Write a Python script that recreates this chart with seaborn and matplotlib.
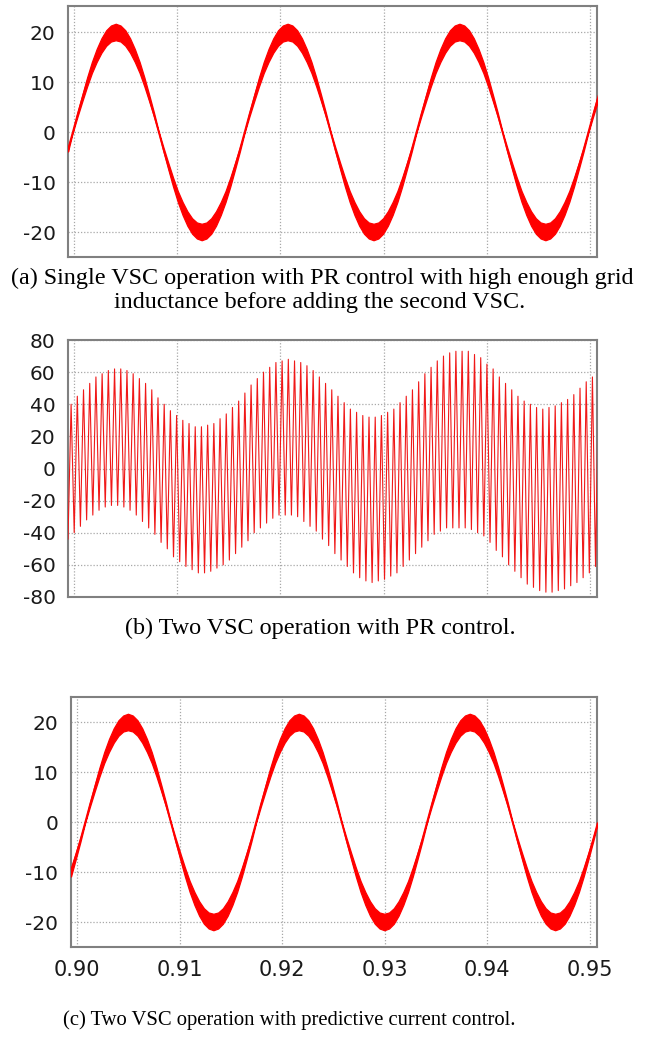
import numpy as np
import matplotlib
matplotlib.use("Agg")
import matplotlib.pyplot as plt
import seaborn as sns

# ---------------- data ----------------
T0 = 0.8994            # first sample time (s)
DT_BAND = 0.00046296   # sampling step of the band traces (s)
DT_MID = 0.00030093    # time between successive peak/trough of the oscillation (s)

# (a) single VSC, PR control: centre of the current band and its half-width (A)
top_center = [-3.5,
    0.0, 3.5, 6.8, 10.0, 12.9, 15.3, 17.3, 18.8, 19.7, 20.0, 19.7, 18.8, 17.3, 15.3, 12.9, 10.0, 6.8, 3.5,
    0.0, -3.5, -6.8, -10.0, -12.9, -15.3, -17.3, -18.8, -19.7, -20.0, -19.7, -18.8, -17.3, -15.3, -12.9, -10.0, -6.8, -3.5,
    0.0, 3.5, 6.8, 10.0, 12.9, 15.3, 17.3, 18.8, 19.7, 20.0, 19.7, 18.8, 17.3, 15.3, 12.9, 10.0, 6.8, 3.5,
    0.0, -3.5, -6.8, -10.0, -12.9, -15.3, -17.3, -18.8, -19.7, -20.0, -19.7, -18.8, -17.3, -15.3, -12.9, -10.0, -6.8, -3.5,
    0.0, 3.5, 6.8, 10.0, 12.9, 15.3, 17.3, 18.8, 19.7, 20.0, 19.7, 18.8, 17.3, 15.3, 12.9, 10.0, 6.8, 3.5,
    0.0, -3.5, -6.8, -10.0, -12.9, -15.3, -17.3, -18.8, -19.7, -20.0, -19.7, -18.8, -17.3, -15.3, -12.9, -10.0, -6.8, -3.5,
    0.0, 3.5, 6.8]
top_ripple = [0.4,
    0.1, 0.4, 0.65, 0.9, 1.1, 1.3, 1.45, 1.55, 1.6, 1.65, 1.6, 1.55, 1.45, 1.3, 1.1, 0.9, 0.65, 0.4,
    0.1, 0.4, 0.65, 0.9, 1.1, 1.3, 1.45, 1.55, 1.6, 1.65, 1.6, 1.55, 1.45, 1.3, 1.1, 0.9, 0.65, 0.4,
    0.1, 0.4, 0.65, 0.9, 1.1, 1.3, 1.45, 1.55, 1.6, 1.65, 1.6, 1.55, 1.45, 1.3, 1.1, 0.9, 0.65, 0.4,
    0.1, 0.4, 0.65, 0.9, 1.1, 1.3, 1.45, 1.55, 1.6, 1.65, 1.6, 1.55, 1.45, 1.3, 1.1, 0.9, 0.65, 0.4,
    0.1, 0.4, 0.65, 0.9, 1.1, 1.3, 1.45, 1.55, 1.6, 1.65, 1.6, 1.55, 1.45, 1.3, 1.1, 0.9, 0.65, 0.4,
    0.1, 0.4, 0.65, 0.9, 1.1, 1.3, 1.45, 1.55, 1.6, 1.65, 1.6, 1.55, 1.45, 1.3, 1.1, 0.9, 0.65, 0.4,
    0.1, 0.4, 0.65]

# (b) two VSCs, PR control: successive troughs / peaks of the oscillation (A)
mid_values = [-44, 40, -40, 45, -36, 49, -32, 53, -29, 57, -26, 59, -24, 61, -23, 62, -23, 62, -24, 61,
    -26, 59, -29, 56, -33, 53, -37, 49, -41, 44, -46, 40, -50, 36, -55, 33, -58, 30, -61, 28,
    -63, 26, -65, 26, -65, 27, -64, 28, -62, 31, -60, 34, -57, 38, -53, 42, -49, 47, -45, 52,
    -40, 56, -37, 60, -34, 63, -31, 66, -29, 67, -29, 68, -29, 67, -30, 66, -33, 64, -36, 61,
    -39, 57, -44, 53, -48, 49, -53, 45, -57, 41, -61, 37, -65, 35, -68, 33, -70, 32, -71, 32,
    -70, 33, -69, 35, -67, 37, -65, 41, -61, 45, -57, 49, -53, 54, -49, 59, -45, 63, -41, 67,
    -39, 70, -37, 72, -37, 73, -37, 73, -37, 73, -38, 71, -40, 69, -42, 65, -46, 62, -51, 57,
    -55, 53, -60, 49, -64, 45, -68, 42, -72, 40, -74, 38, -76, 37, -77, 38, -77, 39, -76, 41,
    -75, 43, -73, 46, -71, 50, -68, 54, -65, 57, -61, 62]

# (c) two VSCs, predictive control: centre of the current band and its half-width (A)
bot_center = [-10.0, -6.8, -3.5,
    0.0, 3.5, 6.8, 10.0, 12.9, 15.3, 17.3, 18.8, 19.7, 20.0, 19.7, 18.8, 17.3, 15.3, 12.9, 10.0, 6.8, 3.5,
    0.0, -3.5, -6.8, -10.0, -12.9, -15.3, -17.3, -18.8, -19.7, -20.0, -19.7, -18.8, -17.3, -15.3, -12.9, -10.0, -6.8, -3.5,
    0.0, 3.5, 6.8, 10.0, 12.9, 15.3, 17.3, 18.8, 19.7, 20.0, 19.7, 18.8, 17.3, 15.3, 12.9, 10.0, 6.8, 3.5,
    0.0, -3.5, -6.8, -10.0, -12.9, -15.3, -17.3, -18.8, -19.7, -20.0, -19.7, -18.8, -17.3, -15.3, -12.9, -10.0, -6.8, -3.5,
    0.0, 3.5, 6.8, 10.0, 12.9, 15.3, 17.3, 18.8, 19.7, 20.0, 19.7, 18.8, 17.3, 15.3, 12.9, 10.0, 6.8, 3.5,
    0.0, -3.5, -6.8, -10.0, -12.9, -15.3, -17.3, -18.8, -19.7, -20.0, -19.7, -18.8, -17.3, -15.3, -12.9, -10.0, -6.8, -3.5,
    0.0]
bot_ripple = [0.9, 0.65, 0.4,
    0.1, 0.4, 0.65, 0.9, 1.1, 1.3, 1.45, 1.55, 1.6, 1.65, 1.6, 1.55, 1.45, 1.3, 1.1, 0.9, 0.65, 0.4,
    0.1, 0.4, 0.65, 0.9, 1.1, 1.3, 1.45, 1.55, 1.6, 1.65, 1.6, 1.55, 1.45, 1.3, 1.1, 0.9, 0.65, 0.4,
    0.1, 0.4, 0.65, 0.9, 1.1, 1.3, 1.45, 1.55, 1.6, 1.65, 1.6, 1.55, 1.45, 1.3, 1.1, 0.9, 0.65, 0.4,
    0.1, 0.4, 0.65, 0.9, 1.1, 1.3, 1.45, 1.55, 1.6, 1.65, 1.6, 1.55, 1.45, 1.3, 1.1, 0.9, 0.65, 0.4,
    0.1, 0.4, 0.65, 0.9, 1.1, 1.3, 1.45, 1.55, 1.6, 1.65, 1.6, 1.55, 1.45, 1.3, 1.1, 0.9, 0.65, 0.4,
    0.1, 0.4, 0.65, 0.9, 1.1, 1.3, 1.45, 1.55, 1.6, 1.65, 1.6, 1.55, 1.45, 1.3, 1.1, 0.9, 0.65, 0.4,
    0.1]

x_ticks = [0.90, 0.91, 0.92, 0.93, 0.94, 0.95]
x_ticklabels = ["0.90", "0.91", "0.92", "0.93", "0.94", "0.95"]
y_ticks_small = [-20, -10, 0, 10, 20]
y_ticks_mid = [-80, -60, -40, -20, 0, 20, 40, 60, 80]
captions = ["(a) Single VSC operation with PR control with high enough grid",
            "inductance before adding the second VSC.",
            "(b) Two VSC operation with PR control.",
            "(c) Two VSC operation with predictive current control."]

# ---------------- figure ----------------
sns.set_style("white")
plt.rcParams['font.family'] = ['DejaVu Sans']

W, H = 656, 1038
fig = plt.figure(figsize=(W/100, H/100), dpi=100)

def px_axes(l, t, r, b):
    return fig.add_axes([l/W, 1-b/H, (r-l)/W, (b-t)/H])

ax1 = px_axes(68, 6, 597, 257)
ax2 = px_axes(68, 340, 597, 597)
ax3 = px_axes(71, 697, 597, 947)

RED = "#ff0000"
GRID = "#a8a8a8"
SPINE = "#808080"

def style(ax, yticks, ylim, show_x):
    ax.set_xlim(0.8994, 0.9507)
    ax.set_ylim(*ylim)
    ax.set_xticks(x_ticks)
    ax.set_yticks(yticks)
    ax.set_yticklabels([str(v) for v in yticks])
    if show_x:
        ax.set_xticklabels(x_ticklabels)
        ax.tick_params(axis='x', length=6, width=1, color=SPINE, pad=3, labelsize=15)
    else:
        ax.set_xticklabels([])
        ax.tick_params(axis='x', length=0)
    ax.tick_params(axis='y', length=8, width=1, color=SPINE, pad=1, labelsize=14.5)
    ax.tick_params(labelcolor="#1a1a1a")
    ax.grid(True, linestyle=(0, (1, 1.5)), color=GRID, linewidth=0.9)
    for s in ax.spines.values():
        s.set_color(SPINE)
        s.set_linewidth(1.5)
    ax.set_xlabel("")
    ax.set_ylabel("")

def band(ax, center, ripple):
    c = np.array(center)
    r = np.array(ripple)
    t = T0 + np.arange(len(c))*DT_BAND
    ax.fill_between(t, c - r, c + r, color=RED, linewidth=0.9, edgecolor=RED, zorder=3)
    sns.lineplot(x=t, y=c, ax=ax, color=RED, linewidth=1.2, zorder=3)

band(ax1, top_center, top_ripple)
style(ax1, y_ticks_small, (-25, 25.2), False)

tm = T0 + np.arange(len(mid_values))*DT_MID
sns.lineplot(x=tm, y=np.array(mid_values, dtype=float), ax=ax2, color="#f01818", linewidth=0.8, zorder=3)
style(ax2, y_ticks_mid, (-80, 80), False)

band(ax3, bot_center, bot_ripple)
style(ax3, y_ticks_small, (-25, 25), True)

cap_kw = dict(family=['Liberation Serif', 'DejaVu Serif'], ha='center', va='baseline', color='black')
fig.text(322/W, 1-284/H, captions[0], fontsize=17.4, **cap_kw)
fig.text(320/W, 1-308/H, captions[1], fontsize=17.4, **cap_kw)
fig.text(320/W, 1-634/H, captions[2], fontsize=17.4, **cap_kw)
fig.text(289/W, 1-1025/H, captions[3], fontsize=14.9, **cap_kw)

fig.savefig("out.png", dpi=100)
